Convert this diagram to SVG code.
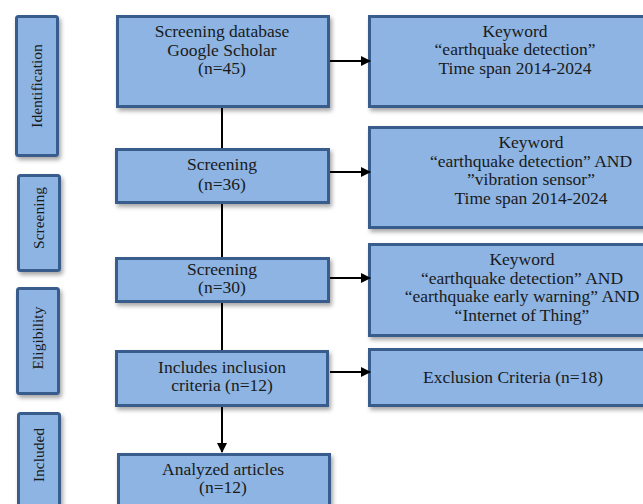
<svg xmlns="http://www.w3.org/2000/svg" width="643" height="504" viewBox="0 0 643 504">
<defs>
<filter id="sh" x="-10%" y="-10%" width="130%" height="130%">
<feDropShadow dx="2" dy="3" stdDeviation="2" flood-color="#000" flood-opacity="0.35"/>
</filter>
<marker id="ah" viewBox="0 0 10 10" refX="9" refY="5" markerWidth="5" markerHeight="5" orient="auto" markerUnits="strokeWidth">
<path d="M0,0 L10,5 L0,10 z" fill="#000"/>
</marker>
<style>
rect{fill:#8DB4E2;stroke:#375D8C;stroke-width:3;filter:url(#sh)}
text{font-family:"Liberation Serif","Times New Roman",serif;fill:#1a1a1a;text-anchor:middle}
.m{font-size:17.5px}
.l{font-size:15.5px}
.c{stroke:#000;stroke-width:2;fill:none}
</style>
</defs>
<rect width="643" height="504" style="fill:#fff;stroke:none;filter:none"/>
<g id="stage-identification"><rect x="16.5" y="16.5" width="41" height="139" rx="2"/><text class="l" transform="translate(42,86) rotate(-90)">Identification</text></g>
<g id="stage-screening"><rect x="18.5" y="175.5" width="41" height="95" rx="2"/><text class="l" transform="translate(44,218) rotate(-90)">Screening</text></g>
<g id="stage-eligibility"><rect x="17.5" y="288.5" width="41" height="105" rx="2"/><text class="l" transform="translate(43,338) rotate(-90)">Eligibility</text></g>
<g id="stage-included"><rect x="18.5" y="413.5" width="41" height="100" rx="2"/><text class="l" transform="translate(44,455) rotate(-90)">Included</text></g>

<g id="n1"><rect x="117.5" y="16.5" width="211" height="90"/><text class="m" x="222" y="37">Screening database</text><text class="m" x="222" y="55.5">Google Scholar</text><text class="m" x="222" y="74">(n=45)</text></g>
<g id="n2"><rect x="116.5" y="149.5" width="212" height="53"/><text class="m" x="222" y="170">Screening</text><text class="m" x="222" y="190">(n=36)</text></g>
<g id="n3"><rect x="116.5" y="258.5" width="212" height="43"/><text class="m" x="222" y="275">Screening</text><text class="m" x="222" y="293">(n=30)</text></g>
<g id="n4"><rect x="116.5" y="351.5" width="211" height="54"/><text class="m" x="222" y="373">Includes inclusion</text><text class="m" x="222" y="391">criteria (n=12)</text></g>
<g id="n5"><rect x="118.5" y="454.5" width="211" height="70"/><text class="m" x="223" y="475">Analyzed articles</text><text class="m" x="223" y="493">(n=12)</text></g>

<g id="r1"><rect x="369.5" y="16.5" width="330" height="90"/><text class="m" x="515" y="37">Keyword</text><text class="m" x="515" y="55">“earthquake detection”</text><text class="m" x="515" y="73.5">Time span 2014-2024</text></g>
<g id="r2"><rect x="369.5" y="127.5" width="330" height="100"/><text class="m" x="531" y="148">Keyword</text><text class="m" x="531" y="166.5">“earthquake detection” AND</text><text class="m" x="531" y="185">”vibration sensor”</text><text class="m" x="531" y="203.5">Time span 2014-2024</text></g>
<g id="r3"><rect x="369.5" y="244.5" width="330" height="91"/><text class="m" x="522" y="265">Keyword</text><text class="m" x="522" y="283.5">“earthquake detection” AND</text><text class="m" x="522" y="302">“earthquake early warning” AND</text><text class="m" x="522" y="320.5">“Internet of Thing”</text></g>
<g id="r4"><rect x="369.5" y="349.5" width="330" height="56"/><text class="m" x="513" y="383">Exclusion Criteria (n=18)</text></g>

<g id="connectors">
<line class="c" x1="222" y1="108" x2="222" y2="148"/>
<line class="c" x1="222" y1="204" x2="222" y2="257"/>
<line class="c" x1="222" y1="303" x2="222" y2="350"/>
<line class="c" x1="222" y1="407" x2="222" y2="452" marker-end="url(#ah)"/>
<line class="c" x1="330" y1="61" x2="370" y2="61" marker-end="url(#ah)"/>
<line class="c" x1="330" y1="172" x2="370" y2="172" marker-end="url(#ah)"/>
<line class="c" x1="330" y1="278" x2="370" y2="278" marker-end="url(#ah)"/>
<line class="c" x1="330" y1="372" x2="370" y2="372" marker-end="url(#ah)"/>
</g>
</svg>
